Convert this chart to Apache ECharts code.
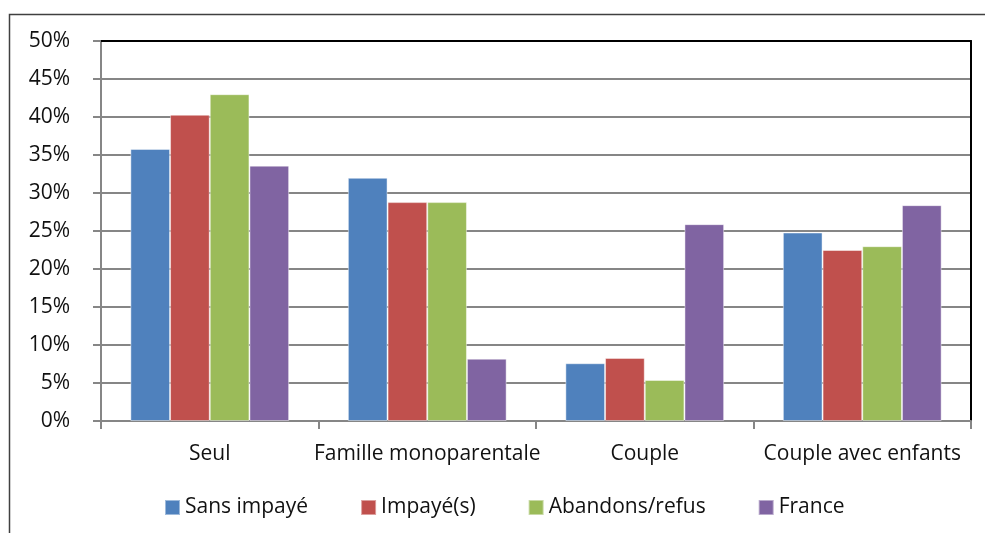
<!DOCTYPE html>
<html>
<head>
<meta charset="utf-8">
<script src="https://cdn.jsdelivr.net/npm/echarts@6/dist/echarts.min.js"></script>
<style>
  html, body { margin: 0; padding: 0; background: #fff; }
  #chart { width: 985px; height: 533px; }
</style>
</head>
<body>
<div id="chart"></div>
<script>
// données
var categories = ['Seul', 'Famille monoparentale', 'Couple', 'Couple avec enfants']
var seriesNames = ['Sans impayé', 'Impayé(s)', 'Abandons/refus', 'France']
var sansImpaye = [35.8, 32.0, 7.6, 24.8]
var impayes = [40.3, 28.8, 8.3, 22.5]
var abandons = [43.0, 28.8, 5.4, 23.0]
var france = [33.6, 8.2, 25.9, 28.4]
var yTicks = [0, 5, 10, 15, 20, 25, 30, 35, 40, 45, 50]

var colors = ['#4F81BD', '#C0504D', '#9BBB59', '#8064A2']
var font = '"Open Sans", Lato, sans-serif'

function bar(name, data) {
    return {
        name: name,
        type: 'bar',
        data: data,
        barGap: 0,
        barCategoryGap: '27%',
        itemStyle: {
            borderColor: 'rgba(255,255,255,0.45)',
            borderWidth: 1
        }
    }
}

var chart = echarts.init(document.getElementById('chart'))
var option = {
    color: colors,
    animation: false,
    textStyle: { fontFamily: font },
    grid: { left: 101, right: 14, top: 41, bottom: 112 },
    legend: {
        data: seriesNames,
        left: 159,
        top: 492,
        icon: 'rect',
        itemWidth: 15,
        itemHeight: 15,
        itemGap: 52,
        textStyle: { fontSize: 21, color: '#111', fontFamily: font }
    },
    xAxis: [{
        type: 'category',
        data: categories,
        axisLine: { onZero: false, lineStyle: { color: '#868686', width: 2 } },
        axisTick: { show: true, length: 8, lineStyle: { color: '#868686', width: 2 } },
        axisLabel: { color: '#111', fontSize: 21, margin: 23, interval: 0 }
    }, {
        // bord supérieur noir
        type: 'category',
        position: 'top',
        data: categories,
        axisLine: { onZero: false, lineStyle: { color: '#000', width: 2 } },
        axisTick: { show: false },
        axisLabel: { show: false }
    }],
    yAxis: [{
        type: 'value',
        min: yTicks[0],
        max: yTicks[yTicks.length - 1],
        interval: 5,
        axisLine: { show: true, onZero: false, lineStyle: { color: '#868686', width: 2 } },
        axisTick: { show: true, length: 8, lineStyle: { color: '#868686', width: 2 } },
        splitLine: { lineStyle: { color: '#868686', width: 2 } },
        axisLabel: { color: '#111', fontSize: 21, margin: 31, formatter: '{value}%' }
    }, {
        // bord droit noir
        type: 'value',
        position: 'right',
        min: 0,
        max: 50,
        interval: 5,
        axisLine: { show: true, onZero: false, lineStyle: { color: '#000', width: 2 } },
        axisTick: { show: false },
        axisLabel: { show: false },
        splitLine: { show: false }
    }],
    graphic: [{
        type: 'rect',
        shape: { x: 9.5, y: 14.5, width: 1100, height: 600 },
        style: { fill: 'none', stroke: '#404040', lineWidth: 1.5 },
        silent: true
    }],
    series: [
        bar(seriesNames[0], sansImpaye),
        bar(seriesNames[1], impayes),
        bar(seriesNames[2], abandons),
        bar(seriesNames[3], france)
    ]
}
chart.setOption(option)
window.addEventListener('resize', function() {
    chart.resize()
})
</script>
</body>
</html>
